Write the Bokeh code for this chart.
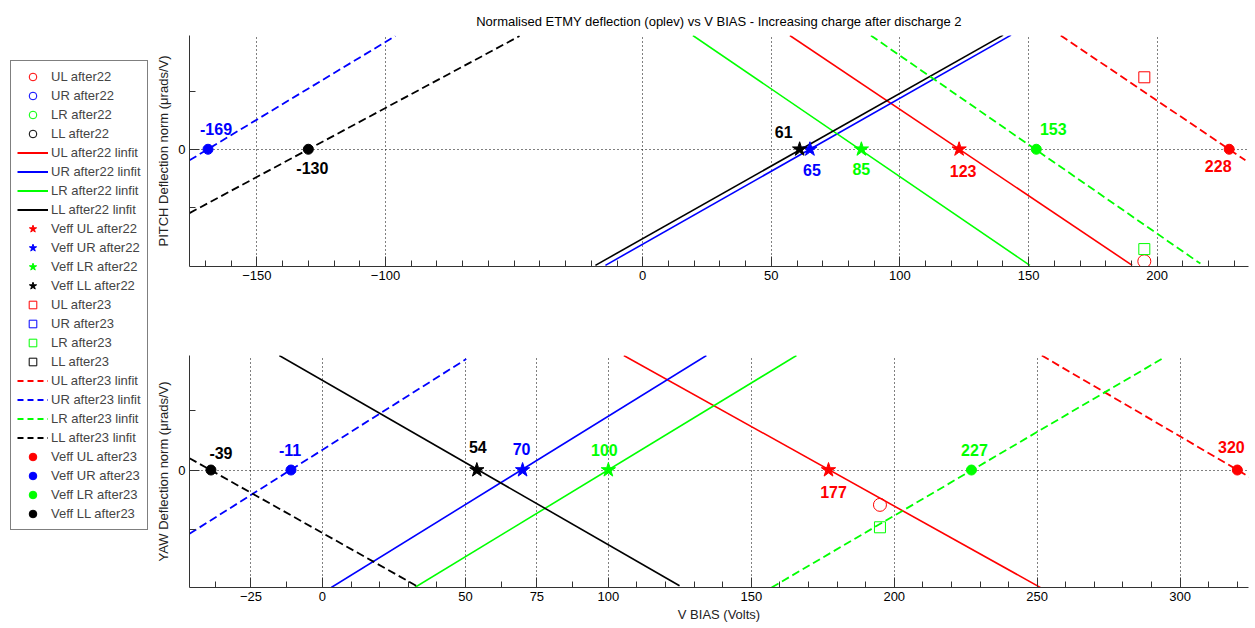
from bokeh.plotting import figure
from bokeh.layouts import row, column
from bokeh.models import Range1d, FixedTicker, Legend, LegendItem, ColumnDataSource
from bokeh.embed import file_html
from bokeh.resources import INLINE
from bokeh.core.properties import value

# ---------------- data ----------------
quads = ["UL", "UR", "LR", "LL"]
colors = ["#ff0000", "#0000ff", "#00ff00", "#000000"]

v_meas = 195  # bias voltage of the measurements visible in the window

# measured normalised deflections visible in the plotted window
pitch_meas22_quads = ["UL"]
pitch_meas22_y = [-1.93]
pitch_meas23_quads = ["UL", "LR"]
pitch_meas23_y = [1.24, -1.72]
yaw_meas22_quads = ["UL"]
yaw_meas22_y = [-0.59]
yaw_meas23_quads = ["LR"]
yaw_meas23_y = [-0.97]

# effective bias voltages (zero crossings), order UL, UR, LR, LL
pitch_veff22 = [123, 65, 85, 61]
pitch_veff23 = [228, -169, 153, -130]
yaw_veff22 = [177, 70, 100, 54]
yaw_veff23 = [320, -11, 227, -39]

# linear-fit end points (V, deflection), order UL, UR, LR, LL
pitch_fit22_v = [[57.2, 190.3], [-14.5, 143.2], [19.5, 150.5], [-18.4, 140.1]]
pitch_fit22_y = [[1.96, -2.0], [-2.0, 1.966], [1.96, -2.0], [-2.0, 1.966]]
pitch_fit23_v = [[162.5, 234.3], [-176.2, -96.2], [88.7, 216.8], [-176.2, -47.9]]
pitch_fit23_y = [[1.96, -0.19], [-0.19, 1.95], [1.96, -1.97], [-1.1, 1.95]]
yaw_fit22_v = [[105.4, 251.5], [3.1, 134.3], [32.3, 165.8], [-15.1, 124.9]]
yaw_fit22_y = [[1.94, -2.0], [-1.99, 1.94], [-1.99, 1.94], [1.94, -1.96]]
yaw_fit23_v = [[251.6, 325.0], [-46.5, 50.3], [157.1, 293.5], [-46.5, 32.8]]
yaw_fit23_y = [[1.94, -0.14], [-1.08, 1.88], [-1.99, 1.88], [0.2, -1.96]]

# axis ticks
pitch_xticks = [-150, -100, 0, 50, 100, 150, 200]
pitch_xminor = list(range(-170, 240, 10))
yaw_xticks = [-25, 0, 50, 75, 100, 150, 200, 250, 300]
yaw_xminor = [-37.5, -12.5, 10, 20, 30, 40, 62.5, 87.5] + list(range(110, 330, 10))

# label offsets in screen px (style), order UL, UR, LR, LL
pitch_off22 = [(4, 22), (2, 21), (0, 20), (-16, -17)]
pitch_off23 = [(-11, 17), (8, -20), (17, -20), (4, 19)]
yaw_off22 = [(5, 22), (-1, -21), (-4, -20), (1, -23)]
yaw_off23 = [(-6, -23), (-1, -20), (3, -20), (10, -17)]

FONT = "Liberation Sans"
TITLE = "Normalised ETMY deflection (oplev) vs V BIAS - Increasing charge after discharge 2"


def make_panel(height, top, bottom, xr, yr, xticks, xminor, ylabel,
               meas22_q, meas22_y, meas23_q, meas23_y,
               veff22, veff23, fit22_v, fit22_y, fit23_v, fit23_y,
               off22, off23, xlabel=None, title=None):
    p = figure(width=1102, height=height, x_range=Range1d(*xr), y_range=Range1d(*yr),
               toolbar_location=None, output_backend="svg",
               min_border_left=35, min_border_right=7,
               min_border_top=top, min_border_bottom=bottom,
               outline_line_color=None, background_fill_color="white")
    if title:
        p.title.text = title
        p.title.align = "center"
        p.title.text_font = FONT
        p.title.text_font_size = "13px"
        p.title.text_font_style = "normal"
        p.title.text_color = "black"
        p.title.standoff = 14
    # axes
    p.xaxis.ticker = FixedTicker(ticks=xticks, minor_ticks=xminor)
    p.yaxis.ticker = FixedTicker(ticks=[0], minor_ticks=[-1, 1])
    for ax in (p.xaxis, p.yaxis):
        ax.major_tick_in = 10
        ax.major_tick_out = 0
        ax.minor_tick_in = 6
        ax.minor_tick_out = 0
        ax.axis_line_color = "#333333"
        ax.major_tick_line_color = "#333333"
        ax.minor_tick_line_color = "#333333"
        ax.major_label_text_font = FONT
        ax.major_label_text_font_size = "13px"
        ax.major_label_text_color = "black"
        ax.axis_label_text_font = FONT
        ax.axis_label_text_font_size = "13px"
        ax.axis_label_text_font_style = "normal"
        ax.axis_label_text_color = "#222222"
        ax.major_label_standoff = 4
    p.yaxis.axis_label = ylabel
    p.yaxis.axis_label_standoff = 4
    if xlabel:
        p.xaxis.axis_label = xlabel
        p.xaxis.axis_label_standoff = 3
    for g in (p.xgrid, p.ygrid):
        g.grid_line_color = "black"
        g.grid_line_dash = "1 3"
        g.grid_line_width = 1

    # after22 measurements (open circles)
    for q, yv in zip(meas22_q, meas22_y):
        c = colors[quads.index(q)]
        p.scatter([v_meas], [yv], marker="circle", size=13, line_color=c,
                  fill_color=None, line_width=1)
    # after22 linear fits
    for c, xs, ys in zip(colors, fit22_v, fit22_y):
        p.line(xs, ys, line_color=c, line_width=1.6)
    # after22 Veff stars
    for c, v in zip(colors, veff22):
        p.scatter([v], [0], marker="star", size=15, line_color=c, fill_color=c)
    # after23 measurements (open squares)
    for q, yv in zip(meas23_q, meas23_y):
        c = colors[quads.index(q)]
        p.scatter([v_meas], [yv], marker="square", size=11, line_color=c,
                  fill_color=None, line_width=1)
    # after23 linear fits
    for c, xs, ys in zip(colors, fit23_v, fit23_y):
        p.line(xs, ys, line_color=c, line_width=1.8, line_dash="8 4")
    # after23 Veff dots
    for c, v in zip(colors, veff23):
        p.scatter([v], [0], marker="circle", size=10, line_color=c, fill_color=c)
    # labels
    src = ColumnDataSource(dict(
        x=list(veff22) + list(veff23),
        y=[0] * (len(veff22) + len(veff23)),
        t=[str(v) for v in veff22] + [str(v) for v in veff23],
        c=colors + colors,
        dx=[o[0] for o in off22] + [o[0] for o in off23],
        dy=[o[1] for o in off22] + [o[1] for o in off23],
    ))
    p.text(x="x", y="y", text="t", text_color="c", x_offset="dx", y_offset="dy",
           text_align="center", text_baseline="middle",
           text_font=value(FONT), text_font_size="16px", text_font_style="bold",
           source=src)
    return p


top = make_panel(296, 35, 30, (-176.2, 235.5), (-2.02, 1.96), pitch_xticks, pitch_xminor,
                 "PITCH Deflection norm (\u03bcrads/V)",
                 pitch_meas22_quads, pitch_meas22_y, pitch_meas23_quads, pitch_meas23_y,
                 pitch_veff22, pitch_veff23, pitch_fit22_v, pitch_fit22_y,
                 pitch_fit23_v, pitch_fit23_y, pitch_off22, pitch_off23, title=TITLE)
bot = make_panel(331, 59, 40, (-46.5, 323.9), (-1.99, 1.94), yaw_xticks, yaw_xminor,
                 "YAW Deflection norm (\u03bcrads/V)",
                 yaw_meas22_quads, yaw_meas22_y, yaw_meas23_quads, yaw_meas23_y,
                 yaw_veff22, yaw_veff23, yaw_fit22_v, yaw_fit22_y,
                 yaw_fit23_v, yaw_fit23_y, yaw_off22, yaw_off23, xlabel="V BIAS (Volts)")

# ---------------- legend panel ----------------
leg = figure(width=153, height=627, x_range=Range1d(0, 1), y_range=Range1d(0, 1),
             toolbar_location=None, output_backend="svg", min_border=0,
             x_axis_location=None, y_axis_location=None, outline_line_color=None)
leg.grid.visible = False
# legend-only glyphs placed outside the (0, 1) window so only their legend swatches show
hx, hy = [5, 6], [5, 6]
items = []
for q, c in zip(quads, colors):
    r = leg.scatter(hx, hy, marker="circle", size=13, line_color=c, fill_color=None)
    items.append(LegendItem(label=f"{q} after22", renderers=[r]))
for q, c in zip(quads, colors):
    r = leg.line(hx, hy, line_color=c, line_width=2)
    items.append(LegendItem(label=f"{q} after22 linfit", renderers=[r]))
for q, c in zip(quads, colors):
    r = leg.scatter(hx, hy, marker="star", size=15, line_color=c, fill_color=c)
    items.append(LegendItem(label=f"Veff {q} after22", renderers=[r]))
for q, c in zip(quads, colors):
    r = leg.scatter(hx, hy, marker="square", size=11, line_color=c, fill_color=None)
    items.append(LegendItem(label=f"{q} after23", renderers=[r]))
for q, c in zip(quads, colors):
    r = leg.line(hx, hy, line_color=c, line_width=2, line_dash="6 4")
    items.append(LegendItem(label=f"{q} after23 linfit", renderers=[r]))
for q, c in zip(quads, colors):
    r = leg.scatter(hx, hy, marker="circle", size=10, line_color=c, fill_color=c)
    items.append(LegendItem(label=f"Veff {q} after23", renderers=[r]))

legend = Legend(items=items, location=(10, 97), border_line_color="black",
                border_line_width=1, background_fill_color="white", background_fill_alpha=1,
                label_text_font=FONT, label_text_font_size="13px",
                glyph_width=31, glyph_height=19, label_height=19, label_standoff=3,
                spacing=0, padding=6, margin=0)
leg.add_layout(legend)

layout = row(leg, column(top, bot, spacing=0), spacing=0)
open("out.html", "w").write(file_html(layout, INLINE))
